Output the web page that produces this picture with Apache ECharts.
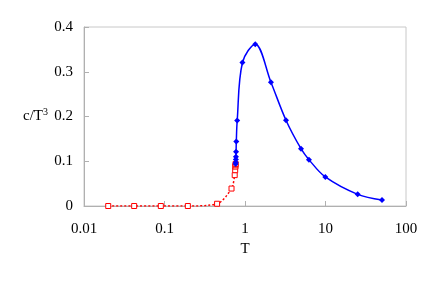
<!DOCTYPE html>
<html><head><meta charset="utf-8">
<script src="https://cdn.jsdelivr.net/npm/echarts@6/dist/echarts.min.js"></script>
<style>html,body{margin:0;padding:0;background:#fff}#c{width:432px;height:287px}</style>
</head><body><div id="c"></div>
<script>
var redT = [0.02, 0.042, 0.09, 0.195, 0.45, 0.68, 0.745, 0.755, 0.76, 0.762, 0.765];
var redV = [0.0, 0.0, 0.0, 0.0, 0.005, 0.039, 0.069, 0.08, 0.088, 0.091, 0.094];
var blueT = [0.765, 0.768, 0.77, 0.772, 0.775, 0.78, 0.80, 0.93, 1.34, 2.1, 3.23, 4.96, 6.23, 9.95, 25.1, 50.3];
var blueV = [0.094, 0.097, 0.104, 0.110, 0.1215, 0.144, 0.191, 0.3207, 0.3617, 0.2767, 0.1917, 0.128, 0.1036, 0.0649, 0.026, 0.0134];
var xTicks = ['0.01', '0.1', '1', '10', '100'];
var yTicks = ['0', '0.1', '0.2', '0.3', '0.4'];

function pairs(a, b) { return a.map(function (v, i) { return [v, b[i]]; }); }
var font = "'Liberation Serif', 'DejaVu Serif', serif";
var chart = echarts.init(document.getElementById('c'));
chart.setOption({
  animation: false,
  backgroundColor: '#fff',
  grid: { left: 84, right: 26, top: 27, bottom: 81, show: true, borderColor: '#c8c8c8', borderWidth: 1 },
  xAxis: {
    type: 'log', logBase: 10, min: 0.01, max: 100,
    name: 'T', nameLocation: 'middle', nameGap: 33,
    nameTextStyle: { fontFamily: font, fontSize: 15, color: '#000' },
    axisLine: { lineStyle: { color: '#b0b0b0' } },
    axisTick: { inside: true, length: 5, lineStyle: { color: '#b0b0b0' } },
    splitLine: { show: false },
    axisLabel: {
      fontFamily: font, fontSize: 15, color: '#000', margin: 16,
      formatter: function (v) {
        var i = Math.round(Math.log10(v)) + 2;
        return xTicks[i] !== undefined ? xTicks[i] : '';
      }
    }
  },
  yAxis: {
    type: 'value', min: 0, max: 0.4, interval: 0.1,
    name: '{a|c/T}{s|3}', nameLocation: 'middle', nameRotate: 0, nameGap: 36,
    nameTextStyle: {
      color: '#000',
      rich: {
        a: { fontFamily: font, fontSize: 15, color: '#000' },
        s: { fontFamily: font, fontSize: 10, color: '#000', verticalAlign: 'top', padding: [0, 0, 8, 0] }
      }
    },
    axisLine: { show: true, lineStyle: { color: '#b0b0b0' } },
    axisTick: { show: true, inside: true, length: 5, lineStyle: { color: '#b0b0b0' } },
    splitLine: { show: false },
    axisLabel: {
      fontFamily: font, fontSize: 15, color: '#000', margin: 11,
      formatter: function (v) { return yTicks[Math.round(v * 10)]; }
    }
  },
  series: [
    {
      type: 'line', data: pairs(redT, redV), smooth: 0.3,
      symbol: 'rect', symbolSize: 5, showSymbol: true,
      lineStyle: { color: '#ff0000', width: 1.5, type: [2, 2] },
      itemStyle: { color: '#fff', borderColor: '#ff0000', borderWidth: 1 },
      z: 2
    },
    {
      type: 'line', data: pairs(blueT, blueV), smooth: 0.35,
      symbol: 'diamond', symbolSize: 6, showSymbol: true,
      lineStyle: { color: '#0000ff', width: 1.5 },
      itemStyle: { color: '#0000ff' },
      z: 3
    }
  ]
});
</script></body></html>
